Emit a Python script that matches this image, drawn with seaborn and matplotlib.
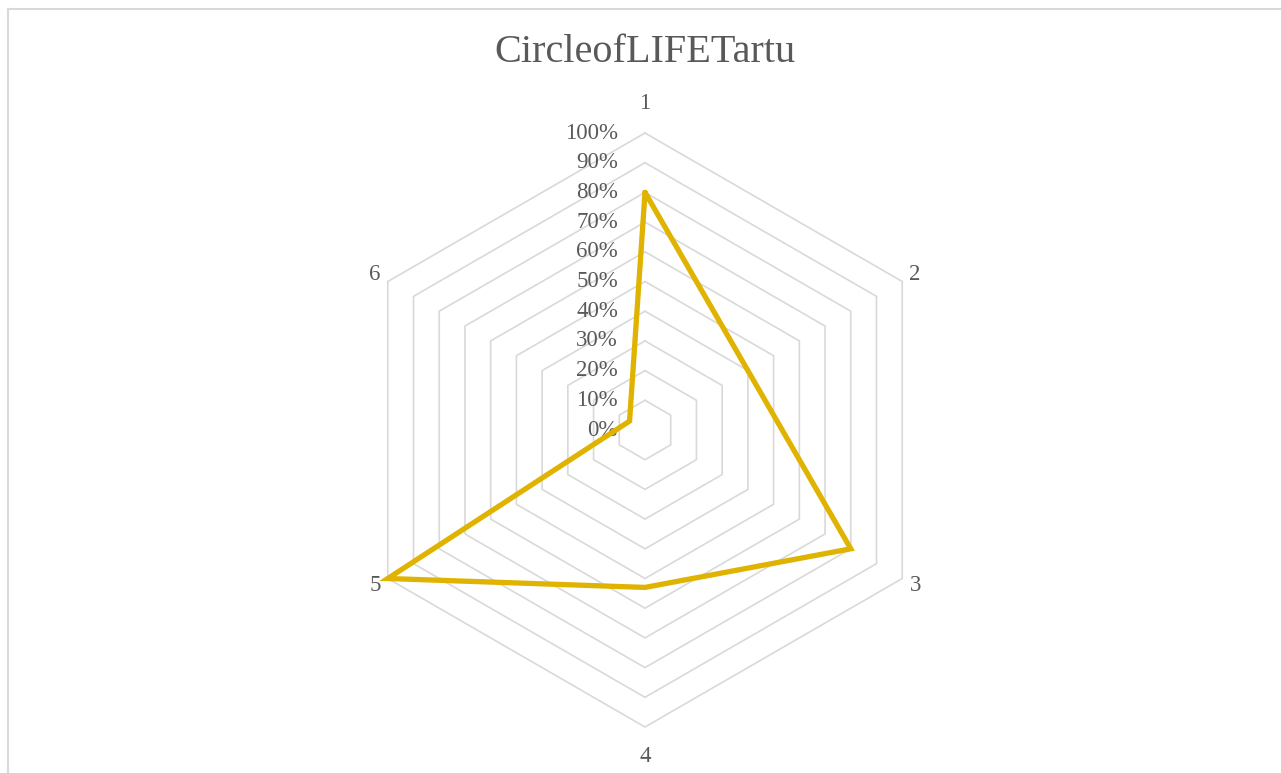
import numpy as np
import pandas as pd
import matplotlib
matplotlib.use("Agg")
import matplotlib.pyplot as plt
import seaborn as sns
from matplotlib.lines import Line2D

# Chart data
categories = ["1", "2", "3", "4", "5", "6"]
values = [0.80, 0.40, 0.80, 0.53, 1.00, 0.06]
ring_levels = [0.0, 0.1, 0.2, 0.3, 0.4, 0.5, 0.6, 0.7, 0.8, 0.9, 1.0]
ring_labels = ["0%", "10%", "20%", "30%", "40%", "50%", "60%", "70%", "80%", "90%", "100%"]
title = "CircleofLIFETartu"

sns.set_theme(style="white")
plt.rcParams["font.family"] = ["Liberation Serif", "DejaVu Serif"]

W, H, DPI = 1281, 773, 100
cx, cy, R = 645, 430, 297  # centre and 100% radius in pixels

fig = plt.figure(figsize=(W / DPI, H / DPI), dpi=DPI)
ax = fig.add_axes([0, 0, 1, 1])

grid_col = "#D9D9D9"
text_col = "#595959"
line_col = "#E0B300"

n = len(categories)
angles = np.pi / 2 - np.arange(n) * 2 * np.pi / n

# hexagonal grid rings
for lvl in ring_levels[1:]:
    gx = np.append(lvl * np.cos(angles), lvl * np.cos(angles[0]))
    gy = np.append(lvl * np.sin(angles), lvl * np.sin(angles[0]))
    ax.plot(gx, gy, color=grid_col, lw=1.2, zorder=1)

# data polygon (closed)
vals = np.array(values)
df = pd.DataFrame({
    "order": np.arange(n + 1),
    "x": np.append(vals * np.cos(angles), vals[0] * np.cos(angles[0])),
    "y": np.append(vals * np.sin(angles), vals[0] * np.sin(angles[0])),
})
sns.lineplot(data=df, x="x", y="y", sort=False, estimator=None, color=line_col,
             lw=3.8, ax=ax, zorder=3)
ax.lines[-1].set_solid_joinstyle("miter")

ax.set_xlim(-cx / R, (W - cx) / R)
ax.set_ylim(-(H - cy) / R, cy / R)
ax.axis("off")

# ring labels
for lvl, lab in zip(ring_levels, ring_labels):
    ax.text(-27 / R, lvl, lab, ha="right", va="center", fontsize=16.5,
            color=text_col, zorder=2)

# category labels
for a, cat in zip(angles, categories):
    if abs(np.cos(a)) < 0.01:
        r = 1.1
    else:
        r = 1.05
    ax.text(r * np.cos(a), r * np.sin(a), cat, ha="center", va="center",
            fontsize=16.5, color=text_col)

fig.text(cx / W, 1 - 53 / H, title, ha="center", va="center", fontsize=29,
         color=text_col)

# chart border (only left and top visible)
fig.add_artist(Line2D([7.5 / W, 7.5 / W], [0, 1 - 8.5 / H], transform=fig.transFigure,
                      color=grid_col, lw=1.5))
fig.add_artist(Line2D([7.5 / W, 1], [1 - 8.5 / H, 1 - 8.5 / H], transform=fig.transFigure,
                      color=grid_col, lw=1.5))

fig.savefig("out.png", dpi=DPI)
